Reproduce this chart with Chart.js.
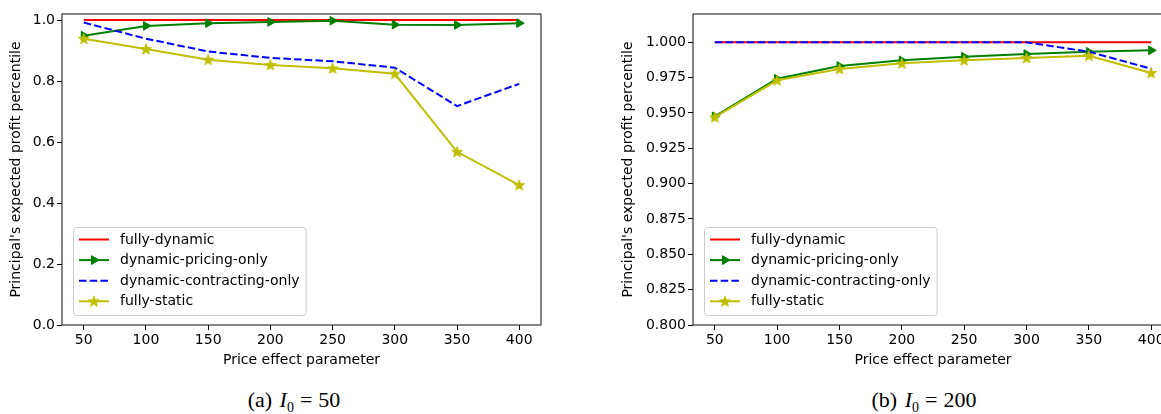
<!DOCTYPE html>
<html lang="en">
<head>
  <meta charset="UTF-8">
  <title>Principal's expected profit percentile</title>
  <script src="https://cdn.jsdelivr.net/npm/chart.js@4.4.2/dist/chart.umd.min.js"></script>
  <style>
    html, body {
      margin: 0;
      padding: 0;
      background: #fff;
      overflow: hidden;
    }
    .page {
      position: relative;
      width: 1161px;
      height: 414px;
      overflow: hidden;
    }
    canvas {
      position: absolute;
      top: 0;
    }
    #chartA { left: 0; }
    #chartB { left: 600px; }
    .caption {
      position: absolute;
      top: 387px;
      transform: translateX(-50%);
      font-family: "Liberation Serif", "DejaVu Serif", serif;
      font-size: 22px;
      word-spacing: 2px;
      color: #000;
      white-space: nowrap;
    }
    .caption sub { font-size: 14px; }
    .caption .eq { margin: 0 6px; }
    #capA { left: 294px; }
    #capB { left: 924px; }
  </style>
</head>
<body>
  <div class="page">
    <canvas id="chartA" width="560" height="380"></canvas>
    <canvas id="chartB" width="600" height="380"></canvas>
    <div class="caption" id="capA">(a) <i>I</i><sub>0</sub><span class="eq">=</span>50</div>
    <div class="caption" id="capB">(b) <i>I</i><sub>0</sub><span class="eq">=</span>200</div>
  </div>
  <script>
    // price effect parameter
    const priceEffect = [50, 100, 150, 200, 250, 300, 350, 400];
    const seriesNames = ['fully-dynamic', 'dynamic-pricing-only', 'dynamic-contracting-only', 'fully-static'];

    // (a) I0 = 50
    const fullyDynamicA = [1, 1, 1, 1, 1, 1, 1, 1];
    const pricingOnlyA = [0.949, 0.981, 0.990, 0.994, 0.998, 0.985, 0.984, 0.990];
    const contractingOnlyA = [0.992, 0.939, 0.897, 0.876, 0.865, 0.844, 0.718, 0.791];
    const fullyStaticA = [0.939, 0.905, 0.870, 0.853, 0.842, 0.824, 0.568, 0.459];

    // (b) I0 = 200
    const fullyDynamicB = [1, 1, 1, 1, 1, 1, 1, 1];
    const pricingOnlyB = [0.9476, 0.9742, 0.9832, 0.9872, 0.9898, 0.9917, 0.9933, 0.9943];
    const contractingOnlyB = [1, 1, 1, 1, 1, 1, 0.9933, 0.9813];
    const fullyStaticB = [0.947, 0.9731, 0.9811, 0.9851, 0.9872, 0.9889, 0.9905, 0.9783];

    const FONT = '"DejaVu Sans", sans-serif';
    const YELLOW = '#bfbf00';

    // filled star marker like matplotlib '*'
    function makeStar(color) {
      const c = document.createElement('canvas');
      c.width = 14; c.height = 14;
      const g = c.getContext('2d');
      g.beginPath();
      for (let i = 0; i < 10; i++) {
        const r = i % 2 === 0 ? 5.6 : 2.3;
        const a = -Math.PI / 2 + i * Math.PI / 5;
        const px = 7 + r * Math.cos(a), py = 7.4 + r * Math.sin(a);
        if (i === 0) g.moveTo(px, py); else g.lineTo(px, py);
      }
      g.closePath();
      g.fillStyle = color;
      g.strokeStyle = color;
      g.lineWidth = 1;
      g.fill();
      g.stroke();
      return c;
    }
    const starImg = makeStar(YELLOW);

    const toPoints = ys => priceEffect.map((x, i) => ({ x: x, y: ys[i] }));

    function makeDatasets(fd, po, co, fs) {
      return [
        { label: seriesNames[0], data: toPoints(fd), borderColor: '#ff0000', backgroundColor: '#ff0000',
          borderWidth: 2, pointRadius: 0, order: 4 },
        { label: seriesNames[1], data: toPoints(po), borderColor: '#008000', backgroundColor: '#008000',
          borderWidth: 2, pointStyle: 'triangle', rotation: 90, pointRadius: 5, pointBorderWidth: 1, order: 3 },
        { label: seriesNames[2], data: toPoints(co), borderColor: '#0000ff', backgroundColor: '#0000ff',
          borderWidth: 2, borderDash: [7.5, 3.2], pointRadius: 0, order: 2 },
        { label: seriesNames[3], data: toPoints(fs), borderColor: YELLOW, backgroundColor: YELLOW,
          borderWidth: 2, pointStyle: starImg, pointRadius: 6, order: 1 }
      ];
    }

    // axes frame + matplotlib-like legend box in lower left
    const framePlugin = {
      id: 'frameLegend',
      afterDatasetsDraw(chart) {
        const ctx = chart.ctx, a = chart.chartArea;
        ctx.save();
        ctx.strokeStyle = '#222';
        ctx.lineWidth = 1.1;
        ctx.strokeRect(a.left, a.top, a.right - a.left, a.bottom - a.top);

        const sets = chart.data.datasets;
        ctx.font = '14px ' + FONT;
        const tw = Math.max(...sets.map(d => ctx.measureText(d.label).width));
        const x0 = a.left + 11, h = 88, y0 = a.bottom - 10 - h;
        const w = 47 + tw + 6;
        ctx.beginPath();
        ctx.roundRect(x0 + 0.5, y0 + 0.5, w, h, 3);
        ctx.fillStyle = 'rgba(255,255,255,0.8)';
        ctx.fill();
        ctx.strokeStyle = '#cccccc';
        ctx.lineWidth = 1;
        ctx.stroke();

        sets.forEach((d, i) => {
          const cy = y0 + 12.5 + i * 20.6;
          ctx.save();
          ctx.strokeStyle = d.borderColor;
          ctx.lineWidth = d.borderWidth;
          ctx.setLineDash(d.borderDash || []);
          ctx.beginPath();
          ctx.moveTo(x0 + 6, cy);
          ctx.lineTo(x0 + 36, cy);
          ctx.stroke();
          ctx.restore();
          if (d.pointRadius > 0) {
            Chart.helpers.drawPoint(ctx, {
              pointStyle: d.pointStyle, rotation: d.rotation || 0, radius: d.pointRadius,
              borderWidth: d.pointBorderWidth || 1
            }, x0 + 21, cy);
            ctx.fillStyle = d.backgroundColor;
            ctx.strokeStyle = d.borderColor;
            if (typeof d.pointStyle === 'string') {
              ctx.beginPath();
              const r = d.pointRadius, rad = (d.rotation || 0) * Math.PI / 180;
              for (let k = 0; k < 3; k++) {
                const ang = rad + k * 2 * Math.PI / 3;
                const px = x0 + 21 + Math.sin(ang) * r, py = cy - Math.cos(ang) * r;
                if (k === 0) ctx.moveTo(px, py); else ctx.lineTo(px, py);
              }
              ctx.closePath();
              ctx.fill();
              ctx.stroke();
            }
          }
          ctx.fillStyle = '#000';
          ctx.textBaseline = 'middle';
          ctx.textAlign = 'left';
          ctx.fillText(d.label, x0 + 47, cy + 0.5);
        });
        ctx.restore();
      }
    };

    function makeChart(id, datasets, yMin, yMax, yStep, digits, yWidth, rightPad, yTitlePad) {
      const canvas = document.getElementById(id);
      return new Chart(canvas.getContext('2d'), {
        type: 'line',
        data: { datasets: datasets },
        options: {
          responsive: false,
          animation: false,
          devicePixelRatio: 1,
          layout: { padding: { left: 0, top: 14, right: rightPad, bottom: 0 } },
          elements: { line: { tension: 0 } },
          plugins: { legend: { display: false }, tooltip: { enabled: false } },
          scales: {
            x: {
              type: 'linear',
              min: 32.5,
              max: 417.5,
              afterFit: s => { s.height = 55; },
              grid: { display: true, drawOnChartArea: false, drawTicks: true, tickLength: 5, tickColor: '#000', tickWidth: 1 },
              border: { display: false },
              ticks: { stepSize: 50, includeBounds: false, color: '#000', padding: 2, maxRotation: 0,
                       font: { family: FONT, size: 14 } },
              title: { display: true, text: 'Price effect parameter', color: '#000',
                       font: { family: FONT, size: 14 }, padding: { top: 0, bottom: 11 } }
            },
            y: {
              min: yMin,
              max: yMax,
              afterFit: s => { s.width = yWidth; },
              grid: { display: true, drawOnChartArea: false, drawTicks: true, tickLength: 5, tickColor: '#000', tickWidth: 1 },
              border: { display: false },
              ticks: { stepSize: yStep, includeBounds: false, color: '#000', padding: 2,
                       font: { family: FONT, size: 14 },
                       callback: v => Number(v).toFixed(digits) },
              title: { display: true, text: "Principal's expected profit percentile", color: '#000',
                       font: { family: FONT, size: 14 }, padding: { top: yTitlePad, bottom: 0 } }
            }
          }
        },
        plugins: [framePlugin]
      });
    }

    makeChart('chartA', makeDatasets(fullyDynamicA, pricingOnlyA, contractingOnlyA, fullyStaticA),
      0, 1.02, 0.2, 1, 62, 19, 8);
    makeChart('chartB', makeDatasets(fullyDynamicB, pricingOnlyB, contractingOnlyB, fullyStaticB),
      0.8, 1.02, 0.025, 3, 93, 27, 19.6);
  </script>
</body>
</html>
